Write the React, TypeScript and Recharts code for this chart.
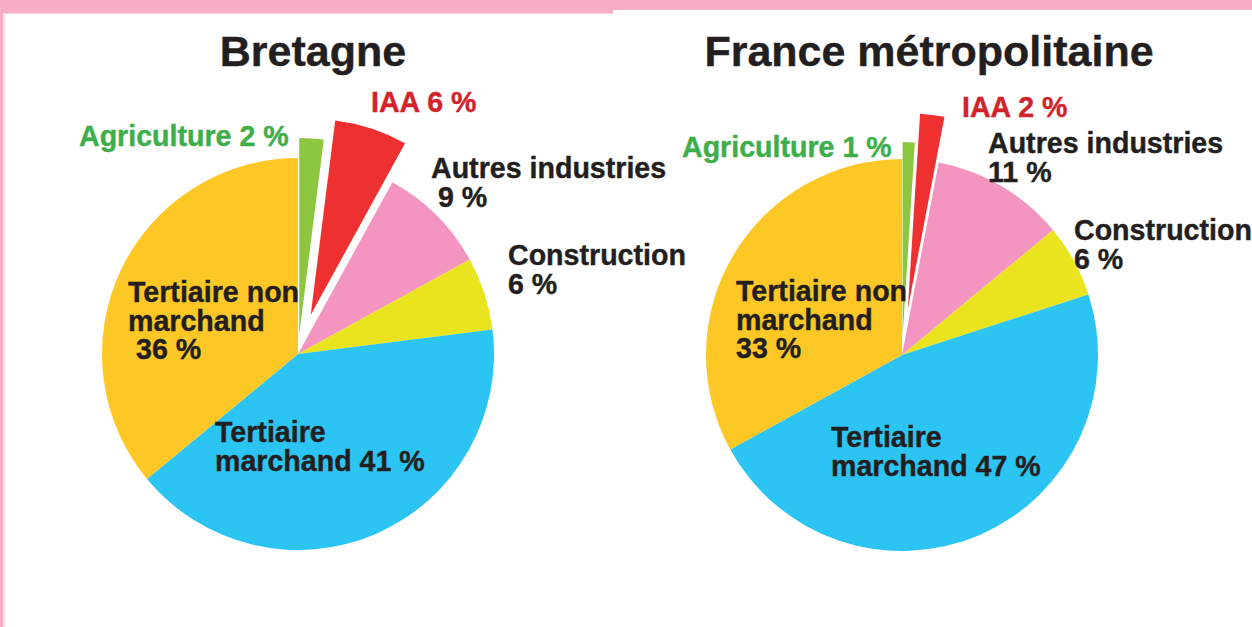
import React from 'react';
import { PieChart, Pie, Cell } from 'recharts';

// secteurs d'activité (ordre horaire depuis midi)
const sectors = ['Agriculture', 'IAA', 'Autres industries', 'Construction', 'Tertiaire marchand', 'Tertiaire non marchand'];
const bretagneValues = [2, 6, 9, 6, 41, 36];
const franceValues = [1, 2, 11, 6, 47, 33];
const titles = ['Bretagne', 'France métropolitaine'];

const COLORS = ['#8DC63F', '#EE3130', '#F395C0', '#E9E41E', '#2BC4F3', '#FDC825'];
const LABEL_COLORS = ['#3DAE4A', '#D2232A', '#231F20', '#231F20', '#231F20', '#231F20'];

const W = 1252;
const H = 627;
const R = 196;
const FONT = '"Liberation Sans", Arial, sans-serif';

// lignes de texte pour chaque étiquette
const labelLines = (i, v) => {
  switch (i) {
    case 0: return [`Agriculture ${v} %`];
    case 1: return [`IAA ${v} %`];
    case 2: return ['Autres industries', `${v} %`];
    case 3: return ['Construction', `${v} %`];
    case 4: return ['Tertiaire', `marchand ${v} %`];
    default: return ['Tertiaire non', 'marchand', `${v} %`];
  }
};

const charts = [
  {
    values: bretagneValues,
    cx: 298,
    cy: 354,
    titleX: 313,
    explode: [20, 41, 0, 0, 0, 0],
    labels: [
      { x: 79, y: 146 },
      { x: 371, y: 112 },
      { x: 431, y: 178, indent: 7 },
      { x: 508, y: 265 },
      { x: 215, y: 442 },
      { x: 128, y: 302, indent: 8 },
    ],
  },
  {
    values: franceValues,
    cx: 902,
    cy: 355,
    titleX: 929,
    explode: [17, 46, 0, 0, 0, 0],
    labels: [
      { x: 682, y: 157 },
      { x: 962, y: 117 },
      { x: 988, y: 153 },
      { x: 1074, y: 240 },
      { x: 831, y: 447 },
      { x: 736, y: 301 },
    ],
  },
];

const midAngle = (values, i) => {
  const total = values.reduce((a, b) => a + b, 0);
  const before = values.slice(0, i).reduce((a, b) => a + b, 0);
  return 90 - (360 * (before + values[i] / 2)) / total;
};

export default function App() {
  const pies = [];
  charts.forEach((c, ci) => {
    const data = sectors.map((name, i) => ({ name, value: c.values[i] }));
    // camembert principal (parts détachées masquées)
    pies.push(
      <Pie
        key={`main-${ci}`}
        data={data}
        dataKey="value"
        nameKey="name"
        cx={c.cx}
        cy={c.cy}
        outerRadius={R}
        startAngle={90}
        endAngle={-270}
        stroke="none"
        isAnimationActive={false}
      >
        {data.map((d, i) => (
          <Cell key={i} fill={c.explode[i] ? 'none' : COLORS[i]} />
        ))}
      </Pie>
    );
    // parts détachées
    c.explode.forEach((dist, k) => {
      if (!dist) return;
      const a = (midAngle(c.values, k) * Math.PI) / 180;
      pies.push(
        <Pie
          key={`ex-${ci}-${k}`}
          data={data}
          dataKey="value"
          nameKey="name"
          cx={c.cx + dist * Math.cos(a)}
          cy={c.cy - dist * Math.sin(a)}
          outerRadius={R}
          startAngle={90}
          endAngle={-270}
          stroke="none"
          isAnimationActive={false}
        >
          {data.map((d, i) => (
            <Cell key={i} fill={i === k ? COLORS[i] : 'none'} />
          ))}
        </Pie>
      );
    });
  });

  return (
    <div style={{ position: 'absolute', left: 0, top: 0, width: W, height: H, background: '#fff', overflow: 'hidden' }}>
      <svg width={W} height={H} style={{ position: 'absolute', left: 0, top: 0 }}>
        <rect x={0} y={0} width={613} height={13} fill="#F7AEC2" />
        <rect x={613} y={0} width={W - 613} height={10} fill="#F7AEC2" />
        <rect x={5} y={13} width={608} height={1} fill="#FBD3DE" />
        <rect x={0} y={0} width={3} height={H} fill="#F7AEC2" />
        <rect x={3} y={13} width={2} height={H} fill="#FCE0E8" />
      </svg>
      <div style={{ position: 'absolute', left: 0, top: 0 }}>
        <PieChart width={W} height={H} margin={{ top: 0, right: 0, bottom: 0, left: 0 }}>
          {pies}
        </PieChart>
      </div>
      <svg width={W} height={H} style={{ position: 'absolute', left: 0, top: 0, pointerEvents: 'none' }}>
        {charts.map((c, ci) => (
          <g key={ci} fontFamily={FONT} fontWeight="bold">
            <text x={c.titleX} y={66} textAnchor="middle" fontSize={43} fill="#231F20" stroke="#231F20" strokeWidth={0.4}>
              {titles[ci]}
            </text>
            {c.labels.map((l, i) => {
              const lines = labelLines(i, c.values[i]);
              return (
                <text
                  key={i}
                  x={l.x}
                  y={l.y}
                  fontSize={28.6}
                  fill={LABEL_COLORS[i]}
                  stroke={LABEL_COLORS[i]}
                  strokeWidth={0.4}
                >
                  {lines.map((t, j) => (
                    <tspan
                      key={j}
                      x={l.x + (j === lines.length - 1 && j > 0 && l.indent ? l.indent : 0)}
                      dy={j === 0 ? 0 : 28.5}
                    >
                      {t}
                    </tspan>
                  ))}
                </text>
              );
            })}
          </g>
        ))}
      </svg>
    </div>
  );
}
